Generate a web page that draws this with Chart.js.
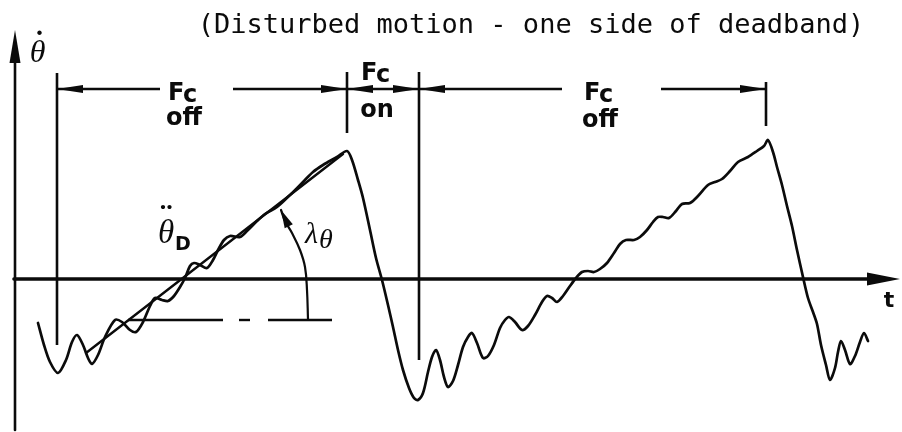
<!DOCTYPE html>
<html>
<head>
<meta charset="utf-8">
<script src="https://cdn.jsdelivr.net/npm/chart.js@4.4.0/dist/chart.umd.min.js"></script>
<style>
  html, body { margin: 0; padding: 0; background: #fff; }
  #wrap { width: 902px; height: 432px; }
</style>
</head>
<body>
<div id="wrap"><canvas id="c" width="902" height="432"></canvas></div>
<script>
// Angular rate (theta-dot) against time, disturbed motion on one side of the deadband
const timeVals = [
  2.3, 2.9, 3.5, 4.3, 5.1, 5.7, 6.2, 6.8, 7.3, 7.7, 8.3, 9.0, 10.0, 10.7, 11.5, 12.1,
  12.8, 13.5, 14.0, 14.7, 15.3, 15.9, 16.5, 17.0, 17.5, 17.9, 18.5, 19.2, 19.8, 20.3,
  20.9, 21.5, 22.5, 23.3, 24.2, 25.0, 26.2, 27.5, 28.8, 29.8, 30.8, 32.2, 33.2,
  33.7, 34.3, 34.8, 35.5, 36.1, 36.7, 37.3, 37.8, 38.3, 38.8, 39.4, 39.9, 40.3,
  40.8, 41.3, 41.7, 42.1, 42.5, 42.9, 43.3, 43.8, 44.3, 44.8, 45.3, 45.7, 46.2, 46.8,
  47.3, 47.9, 48.5, 49.0, 49.4, 50.0, 50.7, 51.3, 52.0, 52.7, 53.2, 53.7, 54.2, 54.8,
  55.5, 56.1, 56.7, 57.3, 57.9, 58.5, 59.2, 59.9, 60.5, 61.1, 61.9, 62.5, 63.2, 63.8,
  64.3, 64.8, 65.4, 66.1, 66.7, 67.5, 68.3, 69.3, 70.0, 70.7, 71.5, 72.3, 73.3, 74.2,
  74.9, 75.3, 75.8, 76.2, 76.7, 77.2, 77.7, 78.2, 78.8, 79.3, 79.8, 80.2, 80.6, 81.1,
  81.5, 82.0, 82.3, 82.6, 83.0, 83.5, 84.0, 84.5, 84.9, 85.3
];
const rateVals = [
  -4.4, -6.6, -8.3, -9.4, -8.1, -6.3, -5.6, -6.6, -7.9, -8.5, -7.6, -5.8, -4.1, -4.3, -5.1, -5.3,
  -4.3, -2.7, -1.9, -2.1, -2.2, -1.7, -0.8, 0.1, 1.3, 1.6, 1.4, 1.1, 1.9, 2.9,
  3.9, 4.3, 4.2, 4.9, 5.8, 6.5, 7.2, 8.4, 9.7, 10.7, 11.4, 12.2, 12.8,
  11.9, 9.9, 8.1, 4.9, 2.1, -0.1, -2.6, -4.8, -7.1, -9.1, -10.9, -11.9, -12.1,
  -11.4, -9.3, -7.8, -7.1, -8.1, -9.8, -10.8, -10.2, -8.6, -6.8, -5.8, -5.4, -6.4, -7.9,
  -7.7, -6.6, -4.9, -4.1, -3.8, -4.3, -5.1, -4.7, -3.6, -2.3, -1.7, -1.9, -2.3, -1.7,
  -0.7, 0.1, 0.7, 0.8, 0.7, 1.0, 1.6, 2.6, 3.5, 3.9, 3.9, 4.2, 4.9, 5.7,
  6.2, 6.2, 6.1, 6.8, 7.5, 7.6, 8.3, 9.4, 9.7, 10.0, 10.8, 11.7, 12.2, 12.8,
  13.3, 13.9, 12.7, 11.2, 9.4, 7.3, 5.3, 2.9, 0.2, -1.9, -3.3, -4.5, -6.6, -8.6,
  -10.1, -8.9, -7.3, -6.2, -7.1, -8.5, -7.7, -6.3, -5.4, -6.2
];

// Mean disturbance slope (theta-double-dot D) and its reference level
const slopeT = [7.1, 32.8];
const slopeV = [-7.4, 12.5];
const refLevel = -4.1;
const refDashStart = [11.3, 22.4, 25.3];
const refDashEnd = [20.8, 23.5, 31.7];

// Angle arc for lambda-theta
const arcT = [29.3, 29.2, 29.0, 28.5, 27.7, 27.0, 26.6];
const arcV = [-4.0, -1.1, 1.2, 2.9, 4.6, 5.8, 6.9];

// Thruster switching instants and the extent of their marker lines
const switchT = [4.2, 33.2, 40.4, 75.1];
const switchTop = [20.6, 20.7, 20.7, 19.7];
const switchBottom = [-6.6, 14.6, -8.1, 15.3];

// Phase brackets: each arrow runs from its tail to its head
const phaseRow = 19.0;
const bracketTail = [14.5, 21.8, 36.8, 36.8, 54.7, 64.6];
const bracketHead = [4.2, 33.2, 33.2, 40.4, 40.4, 75.1];
const phaseStates = ['off', 'on', 'off'];

// Axis extents
const timeAxisEnd = 88.5;
const rateAxisTop = 24.9;
const rateAxisBottom = -15.1;

const INK = '#0b0b0b';
const pts = (xs, ys) => xs.map((x, i) => ({ x: x, y: ys[i] }));

function lineSet(data, width, extra) {
  return Object.assign({
    data: data, showLine: true, borderColor: INK, borderWidth: width,
    pointRadius: 0, pointHoverRadius: 0, fill: false, tension: 0,
    borderCapStyle: 'round', borderJoinStyle: 'round'
  }, extra || {});
}

const datasets = [];
// axes
datasets.push(lineSet([{ x: -0.1, y: 0 }, { x: timeAxisEnd - 2, y: 0 }], 3.6));
datasets.push(lineSet([{ x: 0, y: rateAxisBottom }, { x: 0, y: rateAxisTop - 2 }], 2.6));
// response curve
datasets.push(lineSet(pts(timeVals, rateVals), 2.7, { tension: 0.3 }));
// slope line
datasets.push(lineSet(pts(slopeT, slopeV), 2.4));
// reference level dashes
refDashStart.forEach((s, i) => {
  datasets.push(lineSet([{ x: s, y: refLevel }, { x: refDashEnd[i], y: refLevel }], 2.4, { borderCapStyle: 'butt' }));
});
// angle arc
datasets.push(lineSet(pts(arcT, arcV), 2.2, { tension: 0.4 }));
// switching markers
switchT.forEach((t, i) => {
  datasets.push(lineSet([{ x: t, y: switchBottom[i] }, { x: t, y: switchTop[i] }], 2.6, { borderCapStyle: 'butt' }));
});
// phase brackets
bracketTail.forEach((t, i) => {
  datasets.push(lineSet([{ x: t, y: phaseRow }, { x: bracketHead[i], y: phaseRow }], 2.6, { borderCapStyle: 'butt' }));
});

function arrowHead(ctx, tipX, tipY, fromX, fromY, len, half) {
  const a = Math.atan2(tipY - fromY, tipX - fromX);
  const bx = tipX - len * Math.cos(a), by = tipY - len * Math.sin(a);
  const nx = -Math.sin(a) * half, ny = Math.cos(a) * half;
  ctx.beginPath();
  ctx.moveTo(tipX, tipY);
  ctx.lineTo(bx + nx, by + ny);
  ctx.lineTo(bx - nx, by - ny);
  ctx.closePath();
  ctx.fill();
}

const decorations = {
  id: 'decorations',
  afterDatasetsDraw(chart) {
    const ctx = chart.ctx;
    const X = v => chart.scales.x.getPixelForValue(v);
    const Y = v => chart.scales.y.getPixelForValue(v);
    ctx.save();
    ctx.fillStyle = INK;

    // axis arrowheads
    arrowHead(ctx, X(timeAxisEnd), Y(0), X(0), Y(0), 33, 6.5);
    arrowHead(ctx, X(0), Y(rateAxisTop), X(0), Y(0), 33, 5.5);

    // bracket arrowheads
    bracketTail.forEach((t, i) => {
      arrowHead(ctx, X(bracketHead[i]), Y(phaseRow), X(t), Y(phaseRow), 26, 4);
    });

    // arc arrowhead
    const n = arcT.length;
    arrowHead(ctx, X(arcT[n - 1]), Y(arcV[n - 1]), X(arcT[n - 3]), Y(arcV[n - 3]), 18, 4.5);

    // title
    ctx.textAlign = 'center';
    ctx.textBaseline = 'alphabetic';
    ctx.font = '27px "DejaVu Sans Mono"';
    ctx.fillText('(Disturbed motion - one side of deadband)', X(51.6), Y(24.6));

    // rate axis label: theta with dot
    ctx.font = 'italic 32px "Liberation Serif"';
    ctx.fillText('θ', X(2.25), Y(21.7));
    ctx.font = 'bold 28px "Liberation Serif"';
    ctx.fillText('.', X(2.45), Y(24.4));

    // time axis label
    ctx.font = 'bold 22px "DejaVu Sans"';
    ctx.fillText('t', X(87.4), Y(-2.8));

    // phase labels
    const phaseAt = [
      { t: 16.9, f: 17.9, s: 15.4 },
      { t: 36.2, f: 19.9, s: 16.2 },
      { t: 58.5, f: 17.9, s: 15.2 }
    ];
    phaseAt.forEach((p, i) => {
      ctx.font = 'bold 24px "DejaVu Sans"';
      ctx.textAlign = 'left';
      const fx = X(p.t) - 16;
      ctx.fillText('F', fx, Y(p.f));
      ctx.fillText('c', fx + 15, Y(p.f) + 2);
      ctx.textAlign = 'center';
      ctx.fillText(phaseStates[i], X(p.t), Y(p.s));
    });

    // disturbance slope label
    ctx.textAlign = 'center';
    ctx.font = 'italic 33px "Liberation Serif"';
    ctx.fillText('θ', X(15.1), Y(3.6));
    ctx.font = 'bold 26px "Liberation Serif"';
    ctx.fillText('.', X(14.8), Y(7.0));
    ctx.fillText('.', X(15.45), Y(7.0));
    ctx.font = 'bold 19px "DejaVu Sans"';
    ctx.textAlign = 'left';
    ctx.fillText('D', X(16.0), Y(2.9));

    // angle label
    ctx.font = 'italic 30px "Liberation Serif"';
    ctx.fillText('λ', X(29.0), Y(3.6));
    ctx.font = 'italic 28px "Liberation Serif"';
    ctx.fillText('θ', X(30.4), Y(3.1));

    ctx.restore();
  }
};

new Chart(document.getElementById('c'), {
  type: 'scatter',
  data: { datasets: datasets },
  options: {
    responsive: false,
    animation: false,
    devicePixelRatio: 1,
    layout: { padding: 0 },
    plugins: { legend: { display: false }, tooltip: { enabled: false }, title: { display: false } },
    events: [],
    scales: {
      x: { type: 'linear', min: -1.5, max: 88.7, display: false },
      y: { type: 'linear', min: -15.3, max: 27.9, display: false }
    }
  },
  plugins: [decorations]
});
</script>
</body>
</html>
